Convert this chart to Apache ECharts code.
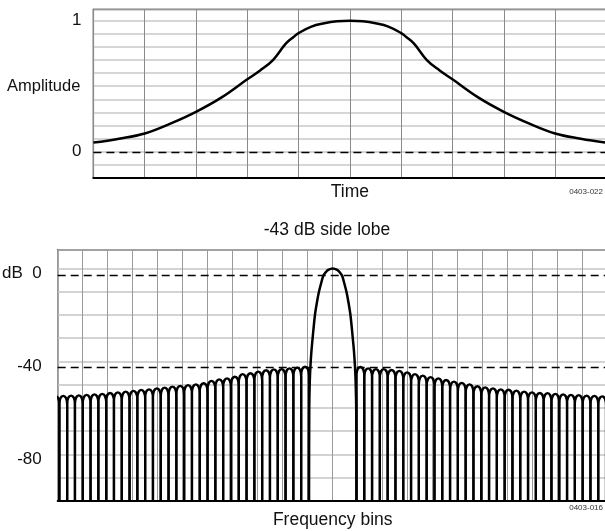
<!DOCTYPE html>
<html><head><meta charset="utf-8">
<script src="https://cdn.jsdelivr.net/npm/echarts@6/dist/echarts.min.js"></script>
<style>html,body{margin:0;padding:0;background:#fff}#c{width:605px;height:531px}</style>
</head><body><div id="c"></div>
<script>
const FONT = "'Liberation Sans',Arial,Helvetica,sans-serif";

// ---- Top panel: window amplitude vs time (fraction of record) ----
const timePos   = [0, 0.05, 0.10, 0.15, 0.20, 0.25, 0.30, 0.325, 0.35, 0.375, 0.39, 0.40, 0.425, 0.45, 0.475, 0.50,
                   0.525, 0.55, 0.575, 0.60, 0.61, 0.625, 0.65, 0.675, 0.70, 0.75, 0.80, 0.85, 0.90, 0.95, 1.0];
const amplitude = [0.07, 0.10, 0.14, 0.215, 0.305, 0.415, 0.553, 0.62, 0.70, 0.825, 0.875, 0.905, 0.955, 0.98, 0.995, 1.0,
                   0.995, 0.98, 0.955, 0.905, 0.875, 0.825, 0.70, 0.62, 0.553, 0.415, 0.305, 0.215, 0.14, 0.10, 0.07];
const timeRange = [0, 1];
const ampRange = [-0.2, 1.087];
const ampLabels = { '1': '1', '0': '0' };

// ---- Bottom panel: spectrum in dB vs frequency bins ----
const binRange = [-11, 11];
const dbRange = [-100, 8];
const dbLabels = { '0': 'dB  0', '-40': '-40', '-80': '-80' };
const refLinesDb = [-3, -42.5];
const mainLobeBins = [-0.95, -0.94, -0.915, -0.89, -0.85, -0.80, -0.71, -0.63, -0.55, -0.46, -0.38, -0.28, -0.18, 0,
                      0.18, 0.28, 0.38, 0.46, 0.55, 0.63, 0.71, 0.80, 0.85, 0.89, 0.915, 0.94, 0.95];
const mainLobeDb   = [-100, -60, -48, -42, -35.5, -29.6, -20, -14.5, -10, -6.2, -3.2, -1.6, -0.6, 0,
                      -0.6, -1.6, -3.2, -6.2, -10, -14.5, -20, -29.6, -35.5, -42, -48, -60, -100];
const mainLobeEdge = 0.95;   // bins
const lobeWidth = 0.312;     // bins per side lobe
// side-lobe peak levels, counted outward from the main lobe
const leftLobePeaksDb  = [-42.3, -42.7, -43.0, -43.3, -43.4, -43.8, -44.4, -45.1, -45.5, -46.6, -47.3, -47.7, -48.4,
                          -49.4, -49.9, -50.2, -50.5, -50.9, -51.3, -51.6, -52.0, -52.3, -52.7, -53.0, -53.3, -53.6,
                          -54.0, -54.2, -54.4, -54.6, -54.7, -54.8, -54.9];
const rightLobePeaksDb = [-42.4, -43.0, -43.3, -43.3, -43.7, -44.1, -44.7, -45.5, -46.1, -46.8, -47.3, -48.0, -48.7,
                          -49.2, -49.9, -50.7, -51.2, -51.6, -52.0, -52.2, -52.6, -53.0, -53.3, -53.6, -53.7, -54.0,
                          -54.2, -54.4, -54.5, -54.7, -54.8, -55.1, -55.2];

const topData = timePos.map((t, i) => [t, amplitude[i]]);
const mainData = mainLobeBins.map((b, i) => [b, mainLobeDb[i]]);
const lobeData = [];
leftLobePeaksDb.forEach((p, k) => {
  const x1 = -mainLobeEdge - k * lobeWidth;
  lobeData.push([x1 - lobeWidth, x1, p]);
});
rightLobePeaksDb.forEach((p, k) => {
  const x0 = mainLobeEdge + k * lobeWidth;
  lobeData.push([x0, x0 + lobeWidth, p]);
});

const txt = { fontFamily: FONT, color: '#111' };
const chart = echarts.init(document.getElementById('c'), null, { renderer: 'canvas' });
chart.setOption({
  animation: false,
  backgroundColor: '#fff',
  textStyle: { fontFamily: FONT },
  title: [
    { text: '-43 dB side lobe', left: 327, top: 221, textAlign: 'center', padding: 0,
      textStyle: Object.assign({ fontSize: 17.5, fontWeight: 'normal' }, txt) },
    { text: '0403-022', right: 2, top: 188, padding: 0,
      textStyle: Object.assign({ fontSize: 8, fontWeight: 'normal' }, txt, { color: '#333' }) },
    { text: '0403-016', right: 2, top: 504, padding: 0,
      textStyle: Object.assign({ fontSize: 8, fontWeight: 'normal' }, txt, { color: '#333' }) }
  ],
  grid: [
    { left: 93.4, top: 9.3, width: 513, height: 168.7, show: true, borderColor: '#000', borderWidth: 1.3,
      containLabel: false, outerBoundsMode: 'none' },
    { left: 57.7, top: 250, width: 550, height: 250.7, show: true, borderColor: '#000', borderWidth: 1.3,
      containLabel: false, outerBoundsMode: 'none' }
  ],
  xAxis: [
    { gridIndex: 0, type: 'value', min: timeRange[0], max: timeRange[1], interval: 0.1,
      name: 'Time', nameLocation: 'middle', nameGap: 5, nameMoveOverlap: false,
      nameTextStyle: Object.assign({ fontSize: 17.5, verticalAlign: 'top' }, txt),
      axisLine: { show: true, onZero: false, lineStyle: { color: '#000', width: 2 } },
      axisTick: { show: false }, axisLabel: { show: false },
      splitLine: { show: true, lineStyle: { color: '#8a8a8a', width: 1 } } },
    { gridIndex: 1, type: 'value', min: binRange[0], max: binRange[1], interval: 1,
      name: 'Frequency bins', nameLocation: 'middle', nameGap: 10, nameMoveOverlap: false,
      nameTextStyle: Object.assign({ fontSize: 17.5, verticalAlign: 'top' }, txt),
      axisLine: { show: true, onZero: false, lineStyle: { color: '#000', width: 2 } },
      axisTick: { show: false }, axisLabel: { show: false },
      splitLine: { show: true, lineStyle: { color: '#999', width: 1 } } }
  ],
  yAxis: [
    { gridIndex: 0, type: 'value', min: ampRange[0], max: ampRange[1], interval: 0.1,
      name: 'Amplitude', nameLocation: 'middle', nameRotate: 0, nameGap: 13, nameMoveOverlap: false,
      nameTextStyle: Object.assign({ fontSize: 16.5, align: 'right', verticalAlign: 'bottom', lineHeight: 14 }, txt),
      axisLine: { show: false }, axisTick: { show: false },
      axisLabel: Object.assign({ fontSize: 17, margin: 12,
        formatter: v => { const k = String(Math.round(v * 1000) / 1000); return ampLabels[k] || ''; } }, txt),
      splitLine: { show: true, lineStyle: { color: '#c8c8c8', width: 1.5 } } },
    { gridIndex: 1, type: 'value', min: dbRange[0], max: dbRange[1], interval: 10,
      axisLine: { show: false }, axisTick: { show: false },
      axisLabel: Object.assign({ fontSize: 17, margin: 16, verticalAlign: 'top', lineHeight: 10,
        formatter: v => dbLabels[String(Math.round(v))] || '' }, txt),
      splitLine: { show: true, lineStyle: { color: '#c4c4c4', width: 1.5 } } }
  ],
  series: [
    { type: 'line', xAxisIndex: 0, yAxisIndex: 0, data: topData, smooth: 0.4, showSymbol: false, symbol: 'none',
      lineStyle: { color: '#000', width: 2.5 }, z: 5,
      markLine: { silent: true, symbol: 'none', label: { show: false }, animation: false,
        lineStyle: { color: '#000', width: 1.3, type: [8, 5] }, data: [{ yAxis: 0 }] } },
    { type: 'custom', xAxisIndex: 1, yAxisIndex: 1, data: lobeData, clip: true, z: 5,
      encode: { x: [0, 1], y: 2 },
      renderItem: (params, api) => {
        const x0 = api.value(0), x1 = api.value(1), pk = api.value(2);
        const b0 = api.coord([x0, dbRange[0]]), b1 = api.coord([x1, dbRange[0]]);
        const s0 = api.coord([x0, pk - 4]), s1 = api.coord([x1, pk - 4]);
        const top = api.coord([(x0 + x1) / 2, pk]);
        const cy = top[1] - (s0[1] - top[1]) / 3;
        return { type: 'path',
          shape: { pathData: `M${b0[0]} ${b0[1]}L${s0[0]} ${s0[1]}C${s0[0]} ${cy} ${s1[0]} ${cy} ${s1[0]} ${s1[1]}L${b1[0]} ${b1[1]}` },
          style: { fill: 'none', stroke: '#000', lineWidth: 2.3 } };
      } },
    { type: 'line', xAxisIndex: 1, yAxisIndex: 1, data: mainData, smooth: 0.3, showSymbol: false, symbol: 'none',
      lineStyle: { color: '#000', width: 2.5 }, z: 5,
      markLine: { silent: true, symbol: 'none', label: { show: false }, animation: false,
        lineStyle: { color: '#000', width: 1.3, type: [8, 5] }, data: refLinesDb.map(v => ({ yAxis: v })) } }
  ]
});
</script>
</body></html>
